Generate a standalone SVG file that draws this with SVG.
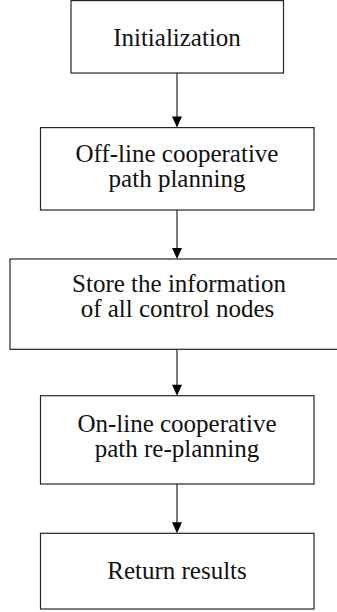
<svg xmlns="http://www.w3.org/2000/svg" width="337" height="612" viewBox="0 0 337 612">
<style>
.box{fill:#fff;stroke:#262626;stroke-width:1.2}
.t{font-family:"Liberation Serif","Times New Roman",serif;font-size:25px;fill:#111;text-anchor:middle}
.ln{stroke:#262626;stroke-width:1.2;fill:none}
.ah{fill:#000}
</style>
<rect width="337" height="612" fill="#fff"/>
<g id="n1"><rect class="box" x="71" y="0.6" width="212.5" height="72.4"/><text class="t" x="177" y="45.5">Initialization</text></g>
<g id="n2"><rect class="box" x="40.5" y="127.6" width="273.5" height="82.4"/><text class="t" x="177" y="161.5">Off-line cooperative</text><text class="t" x="177" y="186.5">path planning</text></g>
<g id="n3"><rect class="box" x="10" y="259" width="340" height="90.3"/><text class="t" x="179" y="291.5">Store the information</text><text class="t" x="177.5" y="316.5">of all control nodes</text></g>
<g id="n4"><rect class="box" x="40.5" y="395.7" width="273.5" height="88.3"/><text class="t" x="177" y="431.5">On-line cooperative</text><text class="t" x="177" y="456.5">path re-planning</text></g>
<g id="n5"><rect class="box" x="40.5" y="533.3" width="273.5" height="75.7"/><text class="t" x="177" y="579">Return results</text></g>
<g id="connectors">
<line class="ln" x1="177" y1="73" x2="177" y2="118"/><polygon class="ah" points="172,116.5 182,116.5 177,127.6"/>
<line class="ln" x1="177" y1="210" x2="177" y2="249"/><polygon class="ah" points="172,248 182,248 177,259"/>
<line class="ln" x1="177" y1="349.3" x2="177" y2="386"/><polygon class="ah" points="172,384.7 182,384.7 177,395.7"/>
<line class="ln" x1="177" y1="484" x2="177" y2="523"/><polygon class="ah" points="172,522.3 182,522.3 177,533.3"/>
</g>
</svg>
